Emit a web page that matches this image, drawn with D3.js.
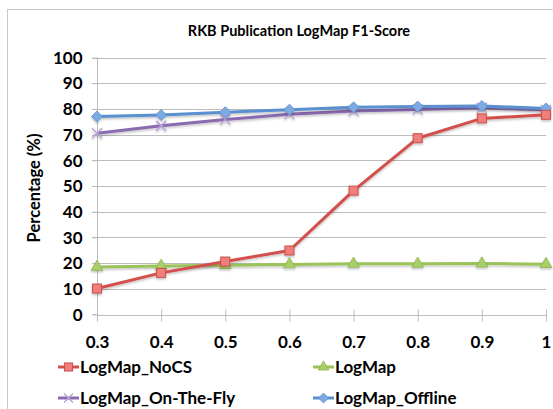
<!DOCTYPE html>
<html>
<head>
<meta charset="utf-8">
<script src="https://cdn.jsdelivr.net/npm/d3@7"></script>
<style>
  html, body { margin: 0; padding: 0; background: #fff; }
  svg { display: block; }
  text { font-family: Lato, "Open Sans", "Liberation Sans", sans-serif; font-weight: bold; fill: #000; }
</style>
</head>
<body>
<svg id="chart" width="553" height="409"></svg>
<script>
// Thresholds on the x axis
const thresholds = [0.3, 0.4, 0.5, 0.6, 0.7, 0.8, 0.9, 1];
const xTickLabels = ["0.3", "0.4", "0.5", "0.6", "0.7", "0.8", "0.9", "1"];
const yTicks = [0, 10, 20, 30, 40, 50, 60, 70, 80, 90, 100];

// F1-score (%) per configuration
const logmapNoCS      = [10.1, 16.2, 20.6, 24.9, 48.2, 68.6, 76.3, 77.7];
const logmap          = [18.5, 18.9, 19.2, 19.5, 19.7, 19.7, 19.8, 19.6];
const logmapOnTheFly  = [70.5, 73.4, 75.9, 77.9, 79.2, 79.8, 80.4, 79.6];
const logmapOffline   = [77.0, 77.6, 78.7, 79.7, 80.6, 80.9, 81.1, 80.2];

const seriesNames = ["LogMap_NoCS", "LogMap", "LogMap_On-The-Fly", "LogMap_Offline"];

const series = [
  { name: seriesNames[0], values: logmapNoCS,     line: "#d24f4c", fill: "#f07f7c", stroke: "#c9504d", marker: "square" },
  { name: seriesNames[1], values: logmap,         line: "#9bc35a", fill: "#a9cf6a", stroke: "#8db24e", marker: "triangle" },
  { name: seriesNames[2], values: logmapOnTheFly, line: "#8a6bb0", fill: "#b9a3d4", stroke: "#8a6bb0", marker: "cross" },
  { name: seriesNames[3], values: logmapOffline,  line: "#5a8fd0", fill: "#7eaae3", stroke: "#5a8fd0", marker: "diamond" }
];
// Draw order: lower series first, upper lines on top
const drawOrder = [2, 3, 1, 0];

const svg = d3.select("#chart");

// Chart frame
svg.append("rect")
  .attr("x", 7.5).attr("y", 9.5)
  .attr("width", 560).attr("height", 420)
  .attr("fill", "#fff").attr("stroke", "#c9c9c9").attr("stroke-width", 1);

const x = d3.scaleLinear().domain([0.3, 1]).range([97, 546]);
const y = d3.scaleLinear().domain([0, 100]).range([314.5, 57.5]);

// Title
svg.append("text")
  .attr("x", 299).attr("y", 36)
  .attr("text-anchor", "middle")
  .style("font-size", "14.5px")
  .text("RKB Publication LogMap F1-Score");

// Horizontal gridlines
svg.append("g")
  .selectAll("line")
  .data(yTicks.filter(d => d > 0))
  .join("line")
  .attr("x1", 92).attr("x2", 546)
  .attr("y1", d => Math.round(y(d)) + 0.5)
  .attr("y2", d => Math.round(y(d)) + 0.5)
  .attr("stroke", "#bcbcbc").attr("stroke-width", 1);

// Y axis
const yAxis = d3.axisLeft(y).tickValues(yTicks).tickSize(5).tickPadding(10).tickFormat(d3.format("d"));
const gy = svg.append("g").attr("transform", "translate(97.5,0)").call(yAxis);
gy.select(".domain").attr("stroke", "#bcbcbc").attr("d", `M-5,${y(0)}H0V${y(100)}`);
gy.selectAll(".tick line").attr("stroke", "#bcbcbc");
gy.selectAll(".tick text").style("font-size", "17px").attr("dy", "0.34em");

// X axis with crossing tick marks
const xAxis = d3.axisBottom(x).tickValues(thresholds).tickSize(0).tickPadding(0)
  .tickFormat((d, i) => xTickLabels[i]);
const gx = svg.append("g").attr("transform", `translate(0,${Math.round(y(0)) + 0.5})`).call(xAxis);
gx.select(".domain").attr("stroke", "#bcbcbc").attr("d", `M${x(0.3)},0H${x(1)}`);
gx.selectAll(".tick line").attr("stroke", "#bcbcbc").attr("y1", -6).attr("y2", 6);
gx.selectAll(".tick text").style("font-size", "17px").attr("y", 32).attr("dy", 0);

// Y axis title
svg.append("text")
  .attr("transform", "translate(40,188) rotate(-90)")
  .attr("text-anchor", "middle")
  .style("font-size", "16.5px")
  .text("Percentage (%)");

// Marker drawing
function drawMarker(g, s, size) {
  const sz = size || 1;
  if (s.marker === "square") {
    g.append("rect").attr("x", -4.5 * sz).attr("y", -4.5 * sz).attr("width", 9 * sz).attr("height", 9 * sz)
      .attr("fill", s.fill).attr("stroke", s.stroke).attr("stroke-width", 1);
  } else if (s.marker === "triangle") {
    g.append("path").attr("d", d3.symbol(d3.symbolTriangle, 60 * sz * sz)())
      .attr("fill", s.fill).attr("stroke", s.stroke).attr("stroke-width", 0.8);
  } else if (s.marker === "cross") {
    const r = 5 * sz;
    g.append("path").attr("d", `M${-r},${-r}L${r},${r}M${-r},${r}L${r},${-r}`)
      .attr("stroke", s.fill).attr("stroke-width", 1.5);
  } else if (s.marker === "diamond") {
    const r = 5.5 * sz;
    g.append("path").attr("d", `M0,${-r}L${r},0L0,${r}L${-r},0Z`)
      .attr("fill", s.fill).attr("stroke", s.stroke).attr("stroke-width", 0.8);
  }
}

// Soft drop shadow under lines and markers
const defs = svg.append("defs");
const f = defs.append("filter").attr("id", "shadow").attr("x", "-20%").attr("y", "-20%").attr("width", "140%").attr("height", "140%");
f.append("feDropShadow").attr("dx", 0).attr("dy", 1.5).attr("stdDeviation", 1).attr("flood-color", "#000").attr("flood-opacity", 0.25);

const line = d3.line().x((d, i) => x(thresholds[i])).y(d => y(d));

drawOrder.forEach(k => {
  const s = series[k];
  const g = svg.append("g").attr("filter", "url(#shadow)");
  g.append("path").datum(s.values)
    .attr("d", line)
    .attr("fill", "none").attr("stroke", s.line).attr("stroke-width", 3)
    .attr("stroke-linejoin", "round");
  s.values.forEach((v, i) => {
    const m = g.append("g").attr("transform", `translate(${x(thresholds[i])},${y(v)})`);
    drawMarker(m, s);
  });
});

// Legend: two columns, two rows
const legendPos = [[58, 367], [313, 367], [58, 398], [313, 398]];
series.forEach((s, k) => {
  const [lx, ly] = legendPos[k];
  const g = svg.append("g").attr("transform", `translate(${lx},${ly})`);
  g.append("line").attr("x1", 0).attr("x2", 21).attr("y1", 0).attr("y2", 0)
    .attr("stroke", s.line).attr("stroke-width", 3);
  const m = g.append("g").attr("transform", "translate(10.5,0)");
  drawMarker(m, s, 0.9);
  g.append("text").attr("x", 22).attr("y", 0).attr("dy", "0.35em")
    .style("font-size", "17px").text(s.name);
});
</script>
</body>
</html>
